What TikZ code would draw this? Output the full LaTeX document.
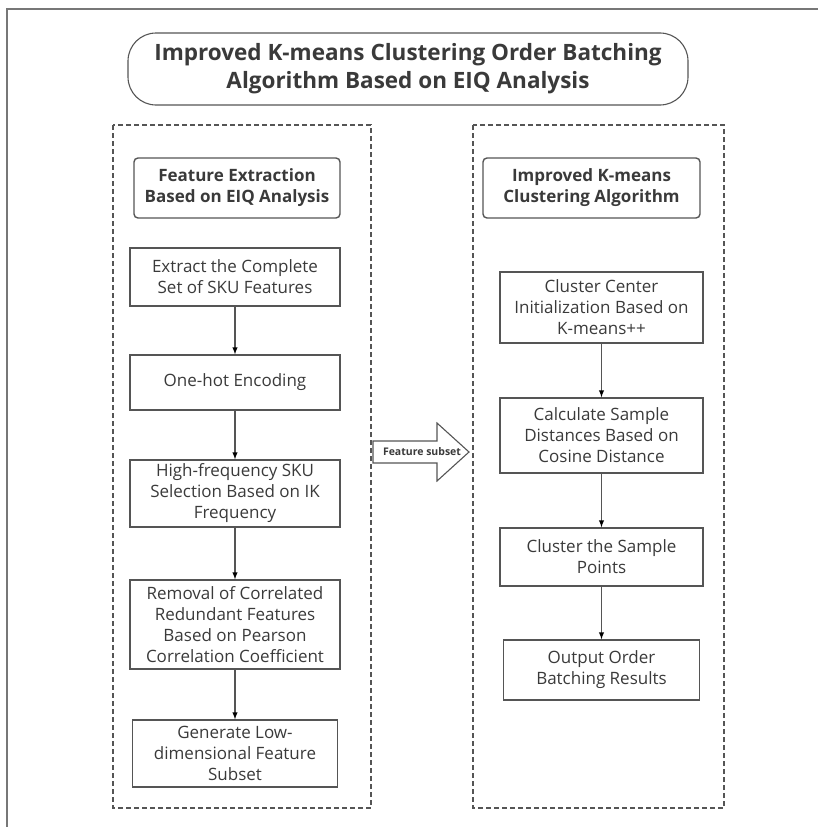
\documentclass[tikz,border=0pt]{standalone}
\usepackage{fontspec}
\setmainfont{Open Sans}
\usetikzlibrary{shapes,arrows}
\usetikzlibrary{calc}
\usetikzlibrary{positioning}
\definecolor{linegray}{HTML}{555555}
\definecolor{textgray}{HTML}{3A3A3A}

\begin{document}
\begin{tikzpicture}[x=1pt,y=-1pt,
	proc_box/.style={rectangle,draw=linegray,line width=1.4pt,text=textgray,align=center,font=\fontsize{17}{21}\selectfont,inner sep=0pt},
	head_box/.style={proc_box,rounded corners=4pt,font=\bfseries\fontsize{17}{21}\selectfont},
	title_box/.style={proc_box,rounded corners=28pt,line width=1.1pt,font=\bfseries\fontsize{22.5}{28}\selectfont},
	panel/.style={draw=linegray,line width=1.1pt,dash pattern=on 5pt off 3pt},
	flow_arrow/.style={draw=linegray,line width=1.4pt,-latex}]
	\useasboundingbox (0,0) rectangle (818,827);
	% outer frame (cut off on two sides)
	\draw[linegray!80,line width=2pt] (7,827) -- (7,9) -- (818,9);
	\node[title_box, minimum width=560, minimum height=72](title) at (408,69){Improved K-means Clustering Order Batching\\Algorithm Based on EIQ Analysis};
	% the two panels
	\draw[panel] (113,125) rectangle (371,808);
	\draw[panel] (473,125) rectangle (724,808);
	% left column
	\node[head_box, minimum width=206, minimum height=60](lhead) at (237,188){Feature Extraction\\Based on EIQ Analysis};
	\node[proc_box, minimum width=210, minimum height=58](L1) at (235,277){Extract the Complete\\Set of SKU Features};
	\node[proc_box, minimum width=210, minimum height=55](L2) at (235,382.5){One-hot Encoding};
	\node[proc_box, minimum width=210, minimum height=67](L3) at (235,493.5){High-frequency SKU\\Selection Based on IK\\Frequency};
	\node[proc_box, minimum width=210, minimum height=89](L4) at (235,624.5){Removal of Correlated\\Redundant Features\\Based on Pearson\\Correlation Coefficient};
	\node[proc_box, minimum width=205, minimum height=67](L5) at (235,753.5){Generate Low-\\dimensional Feature\\Subset};
	% right column
	\node[head_box, minimum width=217, minimum height=60](rhead) at (591.5,188){Improved K-means\\Clustering Algorithm};
	\node[proc_box, minimum width=203, minimum height=71](R1) at (601.5,307.5){Cluster Center\\Initialization Based on\\K-means++};
	\node[proc_box, minimum width=203, minimum height=75](R2) at (601.5,435.5){Calculate Sample\\Distances Based on\\Cosine Distance};
	\node[proc_box, minimum width=203, minimum height=58](R3) at (601.5,557){Cluster the Sample\\Points};
	\node[proc_box, minimum width=196, minimum height=60](R4) at (601.5,670){Output Order\\Batching Results};
	\path[flow_arrow]
	(L1) edge (L2)
	(L2) edge (L3)
	(L3) edge (L4)
	(L4) edge (L5)
	(R1) edge (R2)
	(R2) edge (R3)
	(R3) edge (R4);
	% block arrow between panels
	\draw[linegray,line width=1.1pt,fill=white] (373,441) -- (437,441) -- (437,423) -- (469,452) -- (437,481) -- (437,463) -- (373,463) -- cycle;
	\node[text=textgray,font=\bfseries\fontsize{10.5}{12}\selectfont,inner sep=0pt](fs) at (422,452){Feature subset};
\end{tikzpicture}
\end{document}
